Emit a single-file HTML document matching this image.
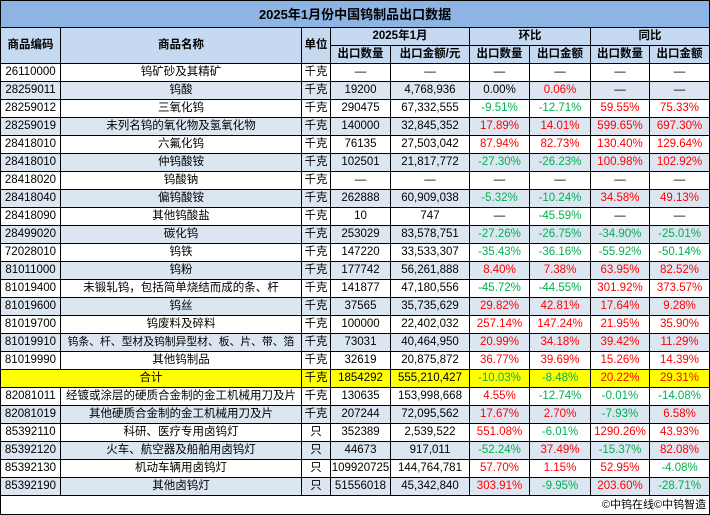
<!DOCTYPE html>
<html><head><meta charset="utf-8"><style>
html,body{margin:0;padding:0;background:#fff;}
body{width:710px;height:513px;overflow:hidden;}
table{border-collapse:collapse;table-layout:fixed;position:absolute;left:0;top:0;width:709px;font-family:"Liberation Sans","Noto Sans CJK SC",sans-serif;font-size:11.5px;color:#000;}
td{border:1px solid #000;text-align:center;padding:0;white-space:nowrap;overflow:hidden;height:17px;line-height:17px;}
.t td{background:#8db4e2;font-weight:bold;font-size:13px;height:26px;}
.h td{background:#c5d9f1;font-weight:bold;}
.s td{background:#dce6f1;}
.y td{background:#ffff00;}
.r{color:#ff0000;}
.g{color:#00b050;}
.n{font-size:10.8px;}
.f td{text-align:right;height:18px;font-size:11px;padding-right:3px;}
</style></head><body>
<table>
<colgroup><col style="width:60px"><col style="width:241px"><col style="width:29px"><col style="width:60px"><col style="width:79px"><col style="width:60px"><col style="width:61px"><col style="width:59px"><col style="width:60px"></colgroup>
<tr class="t"><td colspan="9">2025年1月份中国钨制品出口数据</td></tr>
<tr class="h"><td rowspan="2">商品编码</td><td rowspan="2">商品名称</td><td rowspan="2">单位</td><td colspan="2">2025年1月</td><td colspan="2">环比</td><td colspan="2">同比</td></tr>
<tr class="h"><td>出口数量</td><td>出口金额/元</td><td>出口数量</td><td>出口金额</td><td>出口数量</td><td>出口金额</td></tr>
<tr><td>26110000</td><td>钨矿砂及其精矿</td><td>千克</td><td>—</td><td>—</td><td>—</td><td>—</td><td>—</td><td>—</td></tr>
<tr class="s"><td>28259011</td><td>钨酸</td><td>千克</td><td>19200</td><td>4,768,936</td><td>0.00%</td><td class="r">0.06%</td><td>—</td><td>—</td></tr>
<tr><td>28259012</td><td>三氧化钨</td><td>千克</td><td>290475</td><td>67,332,555</td><td class="g">-9.51%</td><td class="g">-12.71%</td><td class="r">59.55%</td><td class="r">75.33%</td></tr>
<tr class="s"><td>28259019</td><td>未列名钨的氧化物及氢氧化物</td><td>千克</td><td>140000</td><td>32,845,352</td><td class="r">17.89%</td><td class="r">14.01%</td><td class="r">599.65%</td><td class="r">697.30%</td></tr>
<tr><td>28418010</td><td>六氟化钨</td><td>千克</td><td>76135</td><td>27,503,042</td><td class="r">87.94%</td><td class="r">82.73%</td><td class="r">130.40%</td><td class="r">129.64%</td></tr>
<tr class="s"><td>28418010</td><td>仲钨酸铵</td><td>千克</td><td>102501</td><td>21,817,772</td><td class="g">-27.30%</td><td class="g">-26.23%</td><td class="r">100.98%</td><td class="r">102.92%</td></tr>
<tr><td>28418020</td><td>钨酸钠</td><td>千克</td><td>—</td><td>—</td><td>—</td><td>—</td><td>—</td><td>—</td></tr>
<tr class="s"><td>28418040</td><td>偏钨酸铵</td><td>千克</td><td>262888</td><td>60,909,038</td><td class="g">-5.32%</td><td class="g">-10.24%</td><td class="r">34.58%</td><td class="r">49.13%</td></tr>
<tr><td>28418090</td><td>其他钨酸盐</td><td>千克</td><td>10</td><td>747</td><td>—</td><td class="g">-45.59%</td><td>—</td><td>—</td></tr>
<tr class="s"><td>28499020</td><td>碳化钨</td><td>千克</td><td>253029</td><td>83,578,751</td><td class="g">-27.26%</td><td class="g">-26.75%</td><td class="g">-34.90%</td><td class="g">-25.01%</td></tr>
<tr><td>72028010</td><td>钨铁</td><td>千克</td><td>147220</td><td>33,533,307</td><td class="g">-35.43%</td><td class="g">-36.16%</td><td class="g">-55.92%</td><td class="g">-50.14%</td></tr>
<tr class="s"><td>81011000</td><td>钨粉</td><td>千克</td><td>177742</td><td>56,261,888</td><td class="r">8.40%</td><td class="r">7.38%</td><td class="r">63.95%</td><td class="r">82.52%</td></tr>
<tr><td>81019400</td><td>未锻轧钨，包括简单烧结而成的条、杆</td><td>千克</td><td>141877</td><td>47,180,556</td><td class="g">-45.72%</td><td class="g">-44.55%</td><td class="r">301.92%</td><td class="r">373.57%</td></tr>
<tr class="s"><td>81019600</td><td>钨丝</td><td>千克</td><td>37565</td><td>35,735,629</td><td class="r">29.82%</td><td class="r">42.81%</td><td class="r">17.64%</td><td class="r">9.28%</td></tr>
<tr><td>81019700</td><td>钨废料及碎料</td><td>千克</td><td>100000</td><td>22,402,032</td><td class="r">257.14%</td><td class="r">147.24%</td><td class="r">21.95%</td><td class="r">35.90%</td></tr>
<tr class="s"><td>81019910</td><td class="n">钨条、杆、型材及钨制异型材、板、片、带、箔</td><td>千克</td><td>73031</td><td>40,464,950</td><td class="r">20.99%</td><td class="r">34.18%</td><td class="r">39.42%</td><td class="r">11.29%</td></tr>
<tr><td>81019990</td><td>其他钨制品</td><td>千克</td><td>32619</td><td>20,875,872</td><td class="r">36.77%</td><td class="r">39.69%</td><td class="r">15.26%</td><td class="r">14.39%</td></tr>
<tr class="y"><td colspan="2">合计</td><td>千克</td><td>1854292</td><td>555,210,427</td><td class="g">-10.03%</td><td class="g">-8.48%</td><td class="r">20.22%</td><td class="r">29.31%</td></tr>
<tr><td>82081011</td><td>经镀或涂层的硬质合金制的金工机械用刀及片</td><td>千克</td><td>130635</td><td>153,998,668</td><td class="r">4.55%</td><td class="g">-12.74%</td><td class="g">-0.01%</td><td class="g">-14.08%</td></tr>
<tr class="s"><td>82081019</td><td>其他硬质合金制的金工机械用刀及片</td><td>千克</td><td>207244</td><td>72,095,562</td><td class="r">17.67%</td><td class="r">2.70%</td><td class="g">-7.93%</td><td class="r">6.58%</td></tr>
<tr><td>85392110</td><td>科研、医疗专用卤钨灯</td><td>只</td><td>352389</td><td>2,539,522</td><td class="r">551.08%</td><td class="g">-6.01%</td><td class="r">1290.26%</td><td class="r">43.93%</td></tr>
<tr class="s"><td>85392120</td><td>火车、航空器及船舶用卤钨灯</td><td>只</td><td>44673</td><td>917,011</td><td class="g">-52.24%</td><td class="r">37.49%</td><td class="g">-15.37%</td><td class="r">82.08%</td></tr>
<tr><td>85392130</td><td>机动车辆用卤钨灯</td><td>只</td><td>109920725</td><td>144,764,781</td><td class="r">57.70%</td><td class="r">1.15%</td><td class="r">52.95%</td><td class="g">-4.08%</td></tr>
<tr class="s"><td>85392190</td><td>其他卤钨灯</td><td>只</td><td>51556018</td><td>45,342,840</td><td class="r">303.91%</td><td class="g">-9.95%</td><td class="r">203.60%</td><td class="g">-28.71%</td></tr>
<tr class="f"><td colspan="9">©中钨在线©中钨智造</td></tr>
</table>
</body></html>
